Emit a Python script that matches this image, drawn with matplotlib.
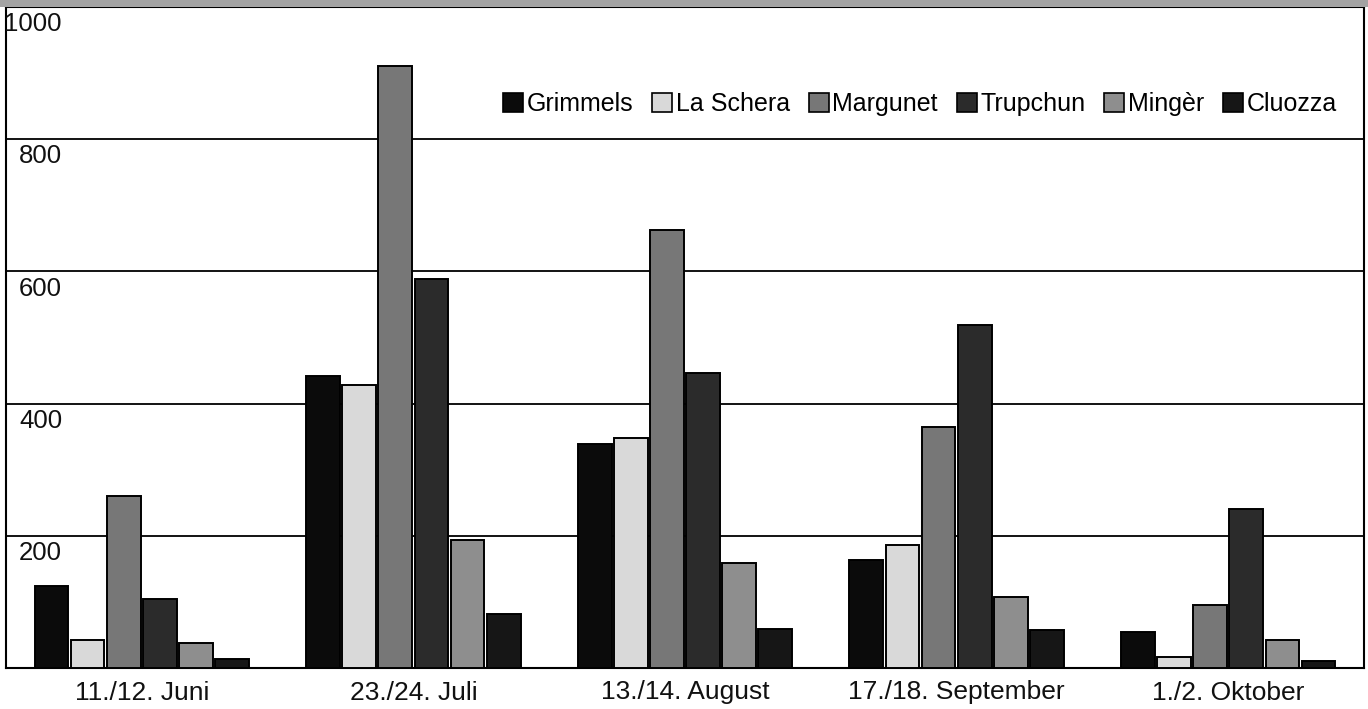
import matplotlib
matplotlib.use("Agg")
import matplotlib.pyplot as plt
import numpy as np
from matplotlib.patches import Patch, Rectangle

plt.rcParams['font.family'] = ['Liberation Sans', 'DejaVu Sans']

categories = ["11./12. Juni", "23./24. Juli", "13./14. August", "17./18. September", "1./2. Oktober"]
series = ["Grimmels", "La Schera", "Margunet", "Trupchun", "Mingèr", "Cluozza"]
grimmels = [124, 441, 339, 163, 54]
la_schera = [42, 428, 348, 186, 17]
margunet = [260, 910, 662, 364, 95]
trupchun = [104, 588, 447, 519, 240]
minger = [38, 193, 159, 107, 42]
cluozza = [14, 82, 59, 57, 11]
values = [grimmels, la_schera, margunet, trupchun, minger, cluozza]
colors = ["#0b0b0b", "#d9d9d9", "#777777", "#2b2b2b", "#8e8e8e", "#161616"]
yticks = [200, 400, 600, 800, 1000]

fig = plt.figure(figsize=(13.68, 7.09), dpi=100)
# grey band on top
fig.patches.append(Rectangle((0, 702/709), 1, 7/709, transform=fig.transFigure,
                             facecolor="#a3a3a3", edgecolor="none", zorder=0))
ax = fig.add_axes([6/1368, 41/709, 1358/1368, 661/709])

x = np.arange(len(categories))
pitch = 0.133
width = 0.124
for i, (s, v, c) in enumerate(zip(series, values, colors)):
    ax.bar(x + (i - 2.5) * pitch, v, width, color=c, edgecolor="black",
           linewidth=1.4, label=s, zorder=3)

ax.set_xlim(-0.5, 4.5)
ax.set_ylim(0, 1000)
for t in yticks:
    ax.axhline(t, color="black", linewidth=1.3, zorder=1)
    ax.text(56/1358, t - 8, str(t), transform=ax.get_yaxis_transform(),
            ha="right", va="top", fontsize=18.5, color="#111111")
ax.set_yticks([])
ax.set_xticks(x)
ax.set_xticklabels(categories, fontsize=19, color="#111111")
ax.tick_params(axis="x", length=0, pad=9)
for sp in ax.spines.values():
    sp.set_linewidth(1.5)
    sp.set_color("black")

handles = [Patch(facecolor=c, edgecolor="black", linewidth=1.2) for c in colors]
fig.legend(handles, series, loc="center right", bbox_to_anchor=(1337/1368, 1 - 104/709),
           ncol=6, frameon=False, fontsize=18, handlelength=0.8, handleheight=0.8,
           handletextpad=0.15, columnspacing=0.75, borderpad=0, borderaxespad=0)

fig.savefig("out.png", dpi=100)
